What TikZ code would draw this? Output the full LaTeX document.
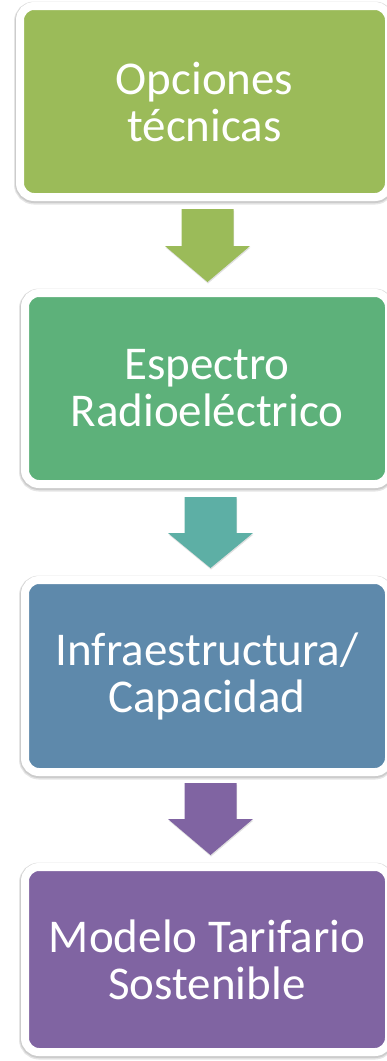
\documentclass[tikz,border=0pt]{standalone}
\usepackage{fontspec}
\setmainfont{Carlito}
\definecolor{c1}{HTML}{9BBB59}
\definecolor{c2}{HTML}{5DB17A}
\definecolor{c2a}{HTML}{5DAFA5}
\definecolor{c3}{HTML}{5E89AB}
\definecolor{c4}{HTML}{8064A2}
\tikzset{
  stagebox/.style={rectangle, rounded corners=14pt, draw=white, line width=8pt,
    fill=#1, text=white, align=center, inner sep=0pt,
    font=\fontsize{47}{47}\selectfont,
    preaction={draw=black!10, line width=12pt, transform canvas={yshift=-1.5pt}},
    preaction={draw=black!20, line width=10pt, transform canvas={yshift=-1pt}}},
  blockarrow/.style={fill=#1, draw=none,
    preaction={fill=black!12, transform canvas={yshift=-1.5pt, xshift=0.5pt}}}
}
\begin{document}
\begin{tikzpicture}[x=1pt,y=-1pt]
\useasboundingbox (0,0) rectangle (387,1061);
\clip (0,0) rectangle (387,1061);
\node[stagebox=c1, minimum width=369pt, minimum height=191pt] (b1) at (204.5,101.5) {Opciones\\técnicas};
\node[stagebox=c2, minimum width=364pt, minimum height=191pt] (b2) at (207,388.5) {Espectro\\Radioeléctrico};
\node[stagebox=c3, minimum width=364pt, minimum height=192pt] (b3) at (207,676) {Infraestructura/\\Capacidad};
\node[stagebox=c4, minimum width=364pt, minimum height=185pt] (b4) at (207,959.5) {Modelo Tarifario\\Sostenible};
% block arrows: top-centre coordinates
\coordinate (a1) at (207.5,209);
\coordinate (a2) at (210.5,497);
\coordinate (a3) at (210.5,783);
\foreach \a/\c/\hl/\len in {a1/c1/36/73, a2/c2a/35/71, a3/c4/36/72} {
  \path[blockarrow=\c] ([xshift=-26pt]\a) -- ([xshift=26pt]\a)
    -- ([xshift=26pt,yshift=-\len pt+\hl pt]\a) -- ([xshift=42.5pt,yshift=-\len pt+\hl pt]\a)
    -- ([yshift=-\len pt]\a) -- ([xshift=-42.5pt,yshift=-\len pt+\hl pt]\a)
    -- ([xshift=-26pt,yshift=-\len pt+\hl pt]\a) -- cycle;
}
\end{tikzpicture}
\end{document}
